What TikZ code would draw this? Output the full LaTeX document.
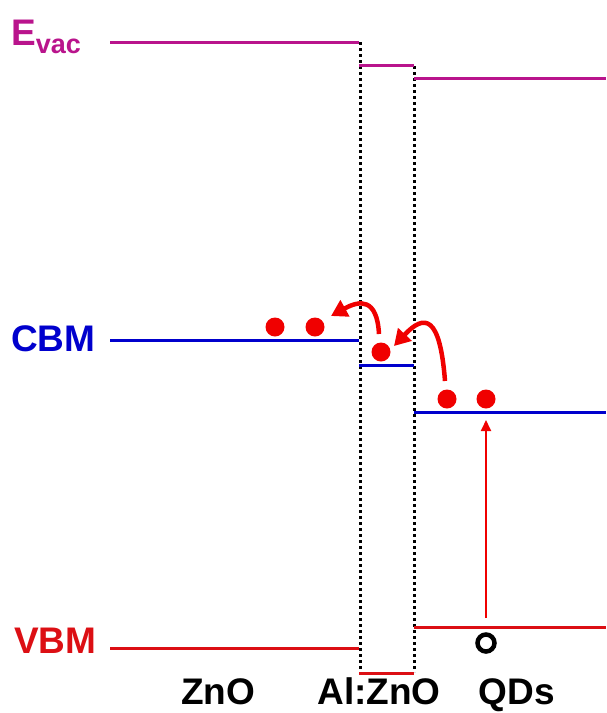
\documentclass[tikz,border=0pt]{standalone}
\usepackage{fontspec}
\setmainfont{Liberation Sans}
\usetikzlibrary{arrows.meta}
\definecolor{vac}{RGB}{185,20,140}
\definecolor{cbm}{RGB}{0,0,205}
\definecolor{vbm}{RGB}{220,15,20}
\definecolor{dotred}{RGB}{240,0,0}
\begin{document}
\begin{tikzpicture}[x=1pt,y=-1pt,
  level/.style={line width=3pt},
  sep/.style={line width=3pt,dash pattern=on 3pt off 3pt,black},
  elec/.style={circle,fill=dotred,inner sep=0pt,minimum size=19pt},
  lbl/.style={font=\fontsize{37}{42}\selectfont\bfseries,inner sep=0pt},
  hop/.style={dotred,line width=4.5pt,-{Triangle[length=16pt,width=18pt]}},
  exc/.style={dotred,line width=2pt,-{Triangle[length=11pt,width=10pt]}}]
\useasboundingbox (0,0) rectangle (606,713);
% coordinates
\coordinate (vA) at (110,42);  \coordinate (vB) at (359,42);
\coordinate (vC) at (359,65);  \coordinate (vD) at (414,65);
\coordinate (vE) at (414,78);  \coordinate (vF) at (606,78);
\coordinate (cA) at (110,340); \coordinate (cB) at (359,340);
\coordinate (cC) at (359,365); \coordinate (cD) at (414,365);
\coordinate (cE) at (414,412); \coordinate (cF) at (606,412);
\coordinate (bA) at (110,648); \coordinate (bB) at (359,648);
\coordinate (bC) at (359,673); \coordinate (bD) at (414,673);
\coordinate (bE) at (414,627); \coordinate (bF) at (606,627);
\coordinate (dLt) at (360,42); \coordinate (dLb) at (360,673);
\coordinate (dRt) at (414,66); \coordinate (dRb) at (414,672);
% separators
\draw[sep] (dLt) -- (dLb);
\draw[sep] (dRt) -- (dRb);
% levels
\draw[level,vac] (vA) -- (vB);
\draw[level,vac] (vC) -- (vD);
\draw[level,vac] (vE) -- (vF);
\draw[level,cbm] (cA) -- (cB);
\draw[level,cbm] (cC) -- (cD);
\draw[level,cbm] (cE) -- (cF);
\draw[level,vbm] (bA) -- (bB);
\draw[level,vbm] (bC) -- (bD);
\draw[level,vbm] (bE) -- (bF);
% labels
\node[lbl,vac,anchor=base west] (evac) at (11,45) {E\raisebox{-8pt}{\fontsize{27}{30}\selectfont vac}};
\node[lbl,cbm,anchor=base west] (cbmlbl) at (11,351) {CBM};
\node[lbl,vbm,anchor=base west] (vbmlbl) at (14,653) {VBM};
\node[lbl,anchor=base] (zno) at (218,704) {ZnO};
\node[lbl,anchor=base] (alzno) at (379,704) {Al:ZnO};
\node[lbl,anchor=base] (qds) at (517,704) {QDs};
% electrons
\node[elec] (e1) at (275,327) {};
\node[elec] (e2) at (315,327) {};
\node[elec] (e3) at (381,352) {};
\node[elec] (e4) at (447,399) {};
\node[elec] (e5) at (486,399) {};
% hole
\node[circle,draw=black,line width=4.5pt,minimum size=17pt,inner sep=0pt] (h) at (486,643) {};
% excitation
\coordinate (exS) at (486,618);
\coordinate (exE) at (486,420);
\draw[exc] (exS) -- (exE);
% hops
\coordinate (h1s) at (379,334); \coordinate (h1e) at (331,316);
\coordinate (h2s) at (445,381); \coordinate (h2e) at (394,346);
\draw[hop] (h1s) .. controls (377,298) and (360,300) .. (h1e);
\draw[hop] (h2s) .. controls (440,316) and (425,313) .. (h2e);
\end{tikzpicture}
\end{document}
